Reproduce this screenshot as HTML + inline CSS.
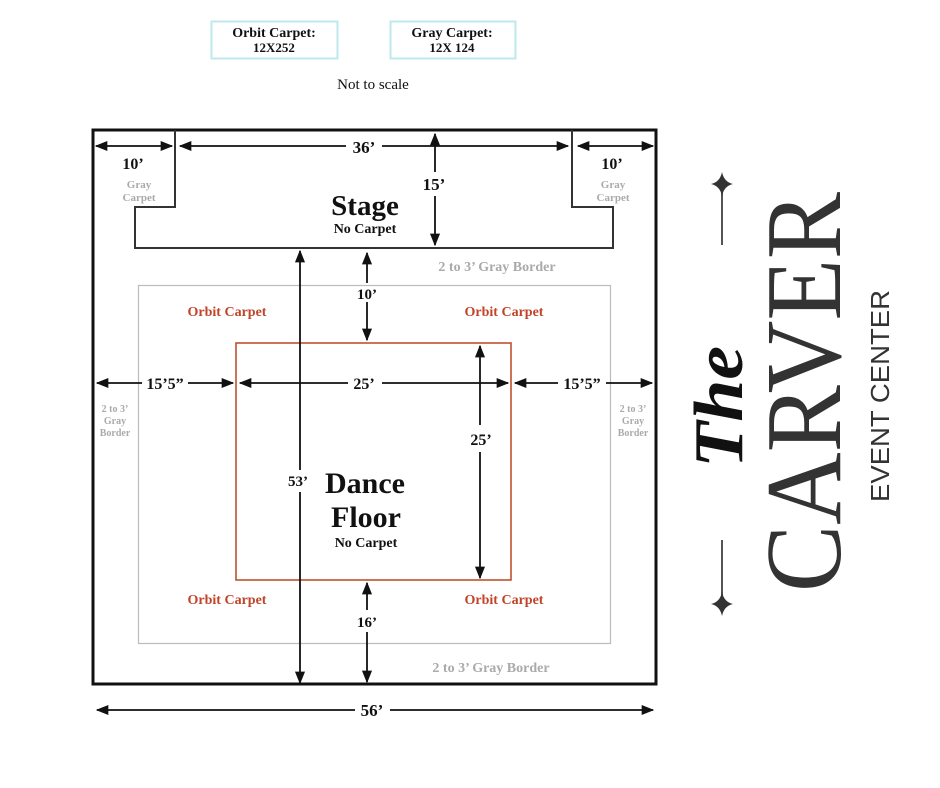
<!DOCTYPE html>
<html><head><meta charset="utf-8"><style>
html,body{margin:0;padding:0;background:#fff;}
svg{display:block;}
text{font-family:"Liberation Serif",serif;}
</style></head><body>
<svg width="940" height="788" viewBox="0 0 940 788" xmlns="http://www.w3.org/2000/svg">
<defs>
<marker id="a" viewBox="0 0 10 10" refX="9" refY="5" markerWidth="7" markerHeight="7" orient="auto-start-reverse"><path d="M0,1 L10,5 L0,9 Z" fill="#111"/></marker>
</defs>
<rect x="211.5" y="21.5" width="126" height="37" fill="none" stroke="#bfe8ee" stroke-width="2"/>
<rect x="390.5" y="21.5" width="125" height="37" fill="none" stroke="#bfe8ee" stroke-width="2"/>
<text x="274" y="37" font-size="14" font-weight="bold" text-anchor="middle" fill="#111">Orbit Carpet:</text>
<text x="274" y="52" font-size="13" font-weight="bold" text-anchor="middle" fill="#111">12X252</text>
<text x="452" y="37" font-size="14" font-weight="bold" text-anchor="middle" fill="#111">Gray Carpet:</text>
<text x="452" y="52" font-size="13" font-weight="bold" text-anchor="middle" fill="#111">12X 124</text>
<text x="373" y="89" font-size="15" text-anchor="middle" fill="#111">Not to scale</text>

<rect x="93" y="130" width="563" height="554" fill="none" stroke="#111" stroke-width="3"/>
<path d="M175,130 L175,207 L135,207 L135,248 L613,248 L613,207 L572,207 L572,130" fill="none" stroke="#333" stroke-width="2"/>
<rect x="138.5" y="285.5" width="472" height="358" fill="none" stroke="#bbb" stroke-width="1.2"/>
<rect x="236" y="343" width="275" height="237" fill="none" stroke="#c0502f" stroke-width="1.6"/>

<g stroke="#111" stroke-width="1.8" fill="none">
<line x1="96" y1="146" x2="172" y2="146" marker-start="url(#a)" marker-end="url(#a)"/>
<line x1="578" y1="146" x2="653" y2="146" marker-start="url(#a)" marker-end="url(#a)"/>
<line x1="180" y1="146" x2="346" y2="146" marker-start="url(#a)"/>
<line x1="382" y1="146" x2="568" y2="146" marker-end="url(#a)"/>
<line x1="435" y1="134" x2="435" y2="172" marker-start="url(#a)"/>
<line x1="435" y1="196" x2="435" y2="245" marker-end="url(#a)"/>
<line x1="300" y1="251" x2="300" y2="470" marker-start="url(#a)"/>
<line x1="300" y1="492" x2="300" y2="683" marker-end="url(#a)"/>
<line x1="367" y1="253" x2="367" y2="283"  marker-start="url(#a)"/>
<line x1="367" y1="302" x2="367" y2="340" marker-end="url(#a)"/>
<line x1="367" y1="583" x2="367" y2="610" marker-start="url(#a)"/>
<line x1="367" y1="632" x2="367" y2="682" marker-end="url(#a)"/>
<line x1="480" y1="346" x2="480" y2="425" marker-start="url(#a)"/>
<line x1="480" y1="452" x2="480" y2="578" marker-end="url(#a)"/>
<line x1="97" y1="383" x2="142" y2="383" marker-start="url(#a)"/>
<line x1="188" y1="383" x2="233" y2="383" marker-end="url(#a)"/>
<line x1="240" y1="383" x2="348" y2="383" marker-start="url(#a)"/>
<line x1="382" y1="383" x2="508" y2="383" marker-end="url(#a)"/>
<line x1="515" y1="383" x2="558" y2="383" marker-start="url(#a)"/>
<line x1="606" y1="383" x2="652" y2="383" marker-end="url(#a)"/>
<line x1="97" y1="710" x2="355" y2="710" marker-start="url(#a)"/>
<line x1="390" y1="710" x2="653" y2="710" marker-end="url(#a)"/>
</g>

<g font-weight="bold" fill="#111" text-anchor="middle">
<text x="364" y="153" font-size="17">36’</text>
<text x="133" y="169" font-size="16">10’</text>
<text x="612" y="169" font-size="16">10’</text>
<text x="434" y="190" font-size="17">15’</text>
<text x="365" y="215" font-size="29">Stage</text>
<text x="365" y="233" font-size="14">No Carpet</text>
<text x="367" y="299" font-size="15">10’</text>
<text x="165" y="389" font-size="16">15’5”</text>
<text x="364" y="389" font-size="16">25’</text>
<text x="582" y="389" font-size="16">15’5”</text>
<text x="481" y="445" font-size="16">25’</text>
<text x="298" y="486" font-size="15">53’</text>
<text x="365" y="493" font-size="30">Dance</text>
<text x="366" y="527" font-size="30">Floor</text>
<text x="366" y="547" font-size="14">No Carpet</text>
<text x="367" y="627" font-size="15">16’</text>
<text x="372" y="716" font-size="17">56’</text>
</g>
<g font-weight="bold" fill="#c0442a" text-anchor="middle" font-size="14">
<text x="227" y="316">Orbit Carpet</text>
<text x="504" y="316">Orbit Carpet</text>
<text x="227" y="604">Orbit Carpet</text>
<text x="504" y="604">Orbit Carpet</text>
</g>
<g font-weight="bold" fill="#aaa" text-anchor="middle">
<text x="139" y="188" font-size="11">Gray</text>
<text x="139" y="201" font-size="11">Carpet</text>
<text x="613" y="188" font-size="11">Gray</text>
<text x="613" y="201" font-size="11">Carpet</text>
<text x="497" y="271" font-size="14">2 to 3’ Gray Border</text>
<text x="491" y="672" font-size="14">2 to 3’ Gray Border</text>
<text x="115" y="412" font-size="10">2 to 3’</text>
<text x="115" y="424" font-size="10">Gray</text>
<text x="115" y="436" font-size="10">Border</text>
<text x="633" y="412" font-size="10">2 to 3’</text>
<text x="633" y="424" font-size="10">Gray</text>
<text x="633" y="436" font-size="10">Border</text>
</g>

<g fill="#333" stroke="#555">
<line x1="722" y1="190" x2="722" y2="245" stroke-width="2"/>
<line x1="722" y1="540" x2="722" y2="598" stroke-width="2"/>
<path d="M722,172 Q724,182 733,184 Q724,186 722,196 Q720,186 711,184 Q720,182 722,172Z" stroke="none"/>
<path d="M722,592 Q724,602 733,604 Q724,606 722,616 Q720,606 711,604 Q720,602 722,592Z" stroke="none"/>
</g>
<text transform="translate(840,592) rotate(-90)" font-size="108" textLength="400" lengthAdjust="spacingAndGlyphs" fill="#333">CARVER</text>
<text transform="translate(742,468) rotate(-90)" font-size="70" font-style="italic" font-weight="bold" textLength="122" lengthAdjust="spacingAndGlyphs" fill="#111">The</text>
<text transform="translate(889,502) rotate(-90)" font-size="26" style="font-family:'Liberation Sans',sans-serif" textLength="212" lengthAdjust="spacingAndGlyphs" fill="#333">EVENT CENTER</text>
</svg>
</body></html>
